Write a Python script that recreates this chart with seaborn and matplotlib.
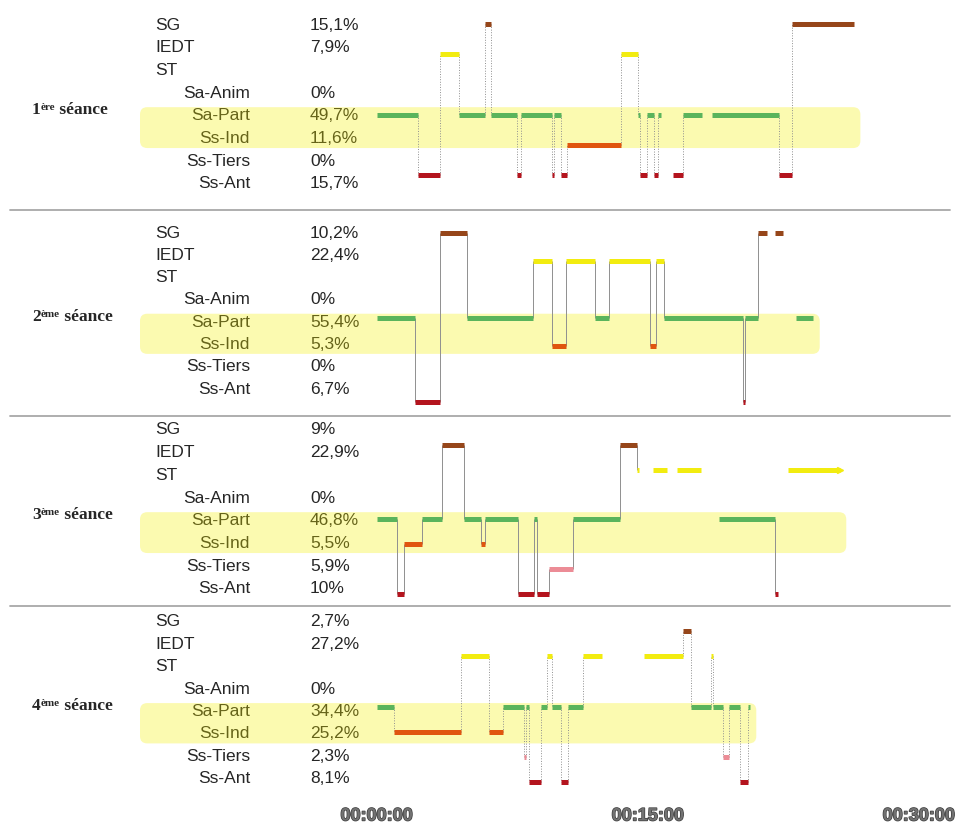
import numpy as np
import matplotlib
matplotlib.use("Agg")
import matplotlib.pyplot as plt
import matplotlib.patheffects as pe
from matplotlib.patches import FancyBboxPatch
from matplotlib.lines import Line2D
import seaborn as sns


# ---- data ----
row_names = ["SG", "IEDT", "ST", "Sa-Anim", "Sa-Part", "Ss-Ind", "Ss-Tiers", "Ss-Ant"]
pct_rows = ["SG", "IEDT", "Sa-Anim", "Sa-Part", "Ss-Ind", "Ss-Tiers", "Ss-Ant"]
level_names = ["SG", "IEDT", "Sa-Anim", "Sa-Part", "Ss-Ind", "Ss-Tiers", "Ss-Ant"]

pct_s1 = [15.1, 7.9, 0, 49.7, 11.6, 0, 15.7]
pct_s2 = [10.2, 22.4, 0, 55.4, 5.3, 0, 6.7]
pct_s3 = [9, 22.9, 0, 46.8, 5.5, 5.9, 10]
pct_s4 = [2.7, 27.2, 0, 34.4, 25.2, 2.3, 8.1]

session_num = ["1", "2", "3", "4"]
session_sup = ["ère", "ème", "ème", "ème"]

# change times (minutes) and the state held until the next change (None = no code)
times_s1 = [0, 2.29, 3.49, 4.55, 5.98, 6.29, 7.73, 7.97, 9.67, 9.81, 10.18, 10.53, 13.49,
            14.43, 14.55, 14.94, 15.31, 15.57, 15.72, 16.40, 16.95, 18.00, 18.52, 22.26,
            22.95, 26.40]
states_s1 = ["Sa-Part", "Ss-Ant", "IEDT", "Sa-Part", "SG", "Sa-Part", "Ss-Ant", "Sa-Part",
             "Ss-Ant", "Sa-Part", "Ss-Ant", "Ss-Ind", "IEDT", "Sa-Part", "Ss-Ant", "Sa-Part",
             "Ss-Ant", "Sa-Part", None, "Ss-Ant", "Sa-Part", None, "Sa-Part", "Ss-Ant", "SG"]

times_s2 = [0, 2.10, 3.49, 4.96, 8.65, 9.67, 10.46, 12.06, 12.84, 15.11, 15.42, 15.90,
            20.24, 20.37, 21.10, 21.60, 22.03, 22.45, 23.19, 24.15]
states_s2 = ["Sa-Part", "Ss-Ant", "SG", "Sa-Part", "IEDT", "Ss-Ind", "IEDT", "Sa-Part",
             "IEDT", "Ss-Ind", "IEDT", "Sa-Part", "Ss-Ant", "Sa-Part", "SG", None, "SG",
             None, "Sa-Part"]

times_s3 = [0, 1.09, 1.51, 2.51, 3.58, 4.81, 5.74, 5.98, 7.79, 8.71, 8.84, 9.52, 10.83,
            13.45, 14.37, 14.50, 15.26, 16.07, 16.62, 17.93, 18.94, 22.03, 22.21, 22.76,
            25.62]
states_s3 = ["Sa-Part", "Ss-Ant", "Ss-Ind", "Sa-Part", "SG", "Sa-Part", "Ss-Ind", "Sa-Part",
             "Ss-Ant", "Sa-Part", "Ss-Ant", "Ss-Tiers", "Sa-Part", "SG", "IEDT", None,
             "IEDT", None, "IEDT", None, "Sa-Part", "Ss-Ant", None, "IEDT"]

times_s4 = [0, 0.92, 4.65, 6.18, 6.98, 8.14, 8.25, 8.41, 9.06, 9.39, 9.67, 10.17, 10.57,
            11.38, 12.45, 14.79, 16.91, 17.40, 18.49, 18.58, 19.15, 19.46, 20.09, 20.55,
            20.64]
states_s4 = ["Sa-Part", "Ss-Ind", "IEDT", "Ss-Ind", "Sa-Part", "Ss-Tiers", "Sa-Part",
             "Ss-Ant", "Sa-Part", "IEDT", "Sa-Part", "Ss-Ant", "Sa-Part", "IEDT", None,
             "IEDT", "SG", "Sa-Part", "IEDT", "Sa-Part", "Ss-Tiers", "Sa-Part", "Ss-Ant",
             "Sa-Part"]

tick_minutes = [0, 15, 30]

# ---- style ----
colors = {"SG": "#96461a", "IEDT": "#f2ec10", "Sa-Anim": "#3b8fd0", "Sa-Part": "#5ab45c",
          "Ss-Ind": "#e0550f", "Ss-Tiers": "#ec8c96", "Ss-Ant": "#b4141e"}

W, H = 958, 825
T0_PX, PX_PER_MIN = 377, 18.07
# (text row top px, row step px, level top px, level step px, connector style)
layout = [(25, 22.7, 24, 30.2, ":"),
          (233, 22.3, 233, 28.2, "-"),
          (430, 22.7, 445, 24.8, "-"),
          (622, 22.4, 631, 25.2, ":")]
separators_px = [210, 416, 606]

sessions = [(times_s1, states_s1, pct_s1), (times_s2, states_s2, pct_s2),
            (times_s3, states_s3, pct_s3), (times_s4, states_s4, pct_s4)]
# session 1 is drawn without an Ss-Tiers lane
session_levels = [[l for l in level_names if l != "Ss-Tiers"]] + [level_names] * 3
arrow_end = [False, False, True, False]

sns.set_theme(style="white")
plt.rcParams["font.family"] = ["Liberation Sans", "DejaVu Sans"]

fig = plt.figure(figsize=(W / 100, H / 100), dpi=100)


def strip_axes(top_px, step_px):
    ax = fig.add_axes([0, 0, 1, 1])
    ax.set_xlim(-T0_PX / PX_PER_MIN, (W - T0_PX) / PX_PER_MIN)
    ax.set_ylim((H - top_px) / step_px, -top_px / step_px)
    ax.axis("off")
    ax.patch.set_visible(False)
    return ax


for s, (times, states, pcts) in enumerate(sessions):
    row_top, row_step, lvl_top, lvl_step, ls = layout[s]

    # labels, percentages and highlight band
    lab = strip_axes(row_top, row_step)
    tr = lab.get_yaxis_transform()
    for r, name in enumerate(row_names):
        if name in ("SG", "IEDT", "ST"):
            lab.text(155 / W, r, name, transform=tr, ha="left", va="center", fontsize=12.5)
        else:
            lab.text(250 / W, r, name, transform=tr, ha="right", va="center", fontsize=12.5)
        if name in pct_rows:
            v = pcts[pct_rows.index(name)]
            lab.text(310 / W, r, f"{v:g}".replace(".", ",") + "%", transform=tr,
                     ha="left", va="center", fontsize=12.5)

    t1 = lab.text(32 / W, 3.75, session_num[s], transform=tr, ha="left", va="center",
                  fontsize=12.5, fontweight="bold", family="Liberation Serif")
    t2 = lab.annotate(session_sup[s], xy=(1, 0.92), xycoords=t1, ha="left", va="top",
                      fontsize=8, fontweight="bold", family="Liberation Serif")
    lab.annotate(" séance", xy=(1, 0), xycoords=(t2, t1), ha="left", va="bottom",
                 fontsize=12.5, fontweight="bold", family="Liberation Serif")

    x0 = (140 - T0_PX) / PX_PER_MIN
    x1 = times[-1] + 0.35
    y0 = row_names.index("Sa-Part") - 0.38
    y1 = row_names.index("Ss-Ind") + 0.42
    band = FancyBboxPatch((x0, y0), x1 - x0, y1 - y0,
                          boxstyle="round,pad=0,rounding_size=0.4",
                          mutation_aspect=PX_PER_MIN / row_step,
                          fc="#f5ef00", ec="none", alpha=0.31, zorder=5)
    lab.add_patch(band)

    # timeline
    ax = strip_axes(lvl_top, lvl_step)
    ypos = {name: i for i, name in enumerate(session_levels[s])}
    prev = None
    for i, st in enumerate(states):
        if st is None:
            prev = None
            continue
        y = ypos[st]
        ax.hlines(y, times[i], times[i + 1], color=colors[st], lw=3.6, zorder=3)
        if prev is not None:
            ax.vlines(times[i], ypos[prev], y, color="#8f8f8f", lw=0.7, ls=ls, zorder=2)
        prev = st
    if arrow_end[s]:
        ax.plot(times[-1], ypos[states[-1]], marker=">", ms=5, color=colors[states[-1]],
                zorder=3)

    if s == len(sessions) - 1:
        trx = ax.get_xaxis_transform()
        for m in tick_minutes:
            ax.text(m, 1 - 816 / H, f"00:{m:02d}:00", transform=trx, ha="center",
                    va="center", fontsize=13, fontweight="bold", color="#727272",
                    path_effects=[pe.withStroke(linewidth=1.0, foreground="#3c3c3c")])

for yp in separators_px:
    fig.add_artist(Line2D([10 / W, 950 / W], [1 - yp / H] * 2, color="#a8a8a8", lw=1.3))

fig.savefig("out.png", dpi=100, facecolor="white")
